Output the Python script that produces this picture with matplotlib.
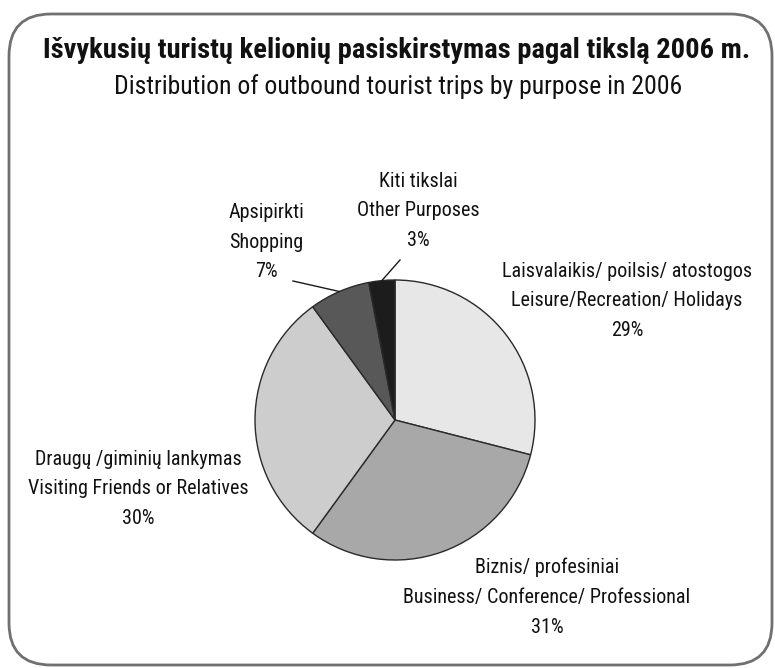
import matplotlib
matplotlib.use("Agg")
import matplotlib.pyplot as plt
from matplotlib import font_manager
from matplotlib.patches import FancyBboxPatch
import numpy as np

W, H = 775, 668

# chart data
categories_lt = ["Laisvalaikis/ poilsis/ atostogos", "Biznis/ profesiniai",
                 "Draugų /giminių lankymas", "Apsipirkti", "Kiti tikslai"]
categories_en = ["Leisure/Recreation/ Holidays", "Business/ Conference/ Professional",
                 "Visiting Friends or Relatives", "Shopping", "Other Purposes"]
shares = [29, 31, 30, 7, 3]
colors = ["#e7e7e7", "#a8a8a8", "#cdcdcd", "#585858", "#1c1c1c"]

title_lt = "Išvykusių turistų kelionių pasiskirstymas pagal tikslą 2006 m."
title_en = "Distribution of outbound tourist trips by purpose in 2006"

# pick a narrow font if there is one
names = {f.name for f in font_manager.fontManager.ttflist}
narrow = "DejaVu Sans"
for cand in ["Roboto Condensed", "Liberation Sans Narrow", "DejaVu Sans Condensed"]:
    if cand in names:
        narrow = cand
        break
plt.rcParams["font.family"] = [narrow, "DejaVu Sans"]

fig = plt.figure(figsize=(W / 100, H / 100), dpi=100)
ax = fig.add_axes([0, 0, 1, 1])

# rounded frame
frame = FancyBboxPatch((9, 3), 763, 651, boxstyle="round,pad=0,rounding_size=42",
                       fill=False, edgecolor="#707070", linewidth=2.0)
ax.add_patch(frame)

ax.text(397, H - 50, title_lt, ha="center", va="center", fontsize=20.5,
        fontweight="bold", color="#111111")
ax.text(398, H - 87, title_en, ha="center", va="center", fontsize=18.5, color="#111111")

cx, cy, r = 395, H - 420, 140
wedges, _ = ax.pie(shares, colors=colors, startangle=90, counterclock=False,
                   center=(cx, cy), radius=r, frame=True,
                   wedgeprops=dict(edgecolor="#2a2a2a", linewidth=1.0))
ax.set_xlim(0, W)
ax.set_ylim(0, H)
ax.set_aspect("equal")
ax.axis("off")

# label centre positions (middle line), in pixels from top-left
label_pos = [(627, 301), (547, 597), (138, 489), (266, 242), (418, 211)]
for i, (lt, en, v) in enumerate(zip(categories_lt, categories_en, shares)):
    x, y = label_pos[i]
    ax.text(x, H - y, f"{lt}\n{en}\n{v}%", ha="center", va="center",
            fontsize=14.5, linespacing=1.72, color="#111111")

# leader lines for the two small slices
leaders = {3: (293, 281), 4: (400, 260)}
for i, (lx, ly) in leaders.items():
    w = wedges[i]
    mid = np.deg2rad((w.theta1 + w.theta2) / 2)
    px, py = cx + r * np.cos(mid), cy + r * np.sin(mid)
    ax.plot([lx, px], [H - ly, py], color="#1a1a1a", linewidth=1.0)

fig.savefig("out.png", dpi=100)
